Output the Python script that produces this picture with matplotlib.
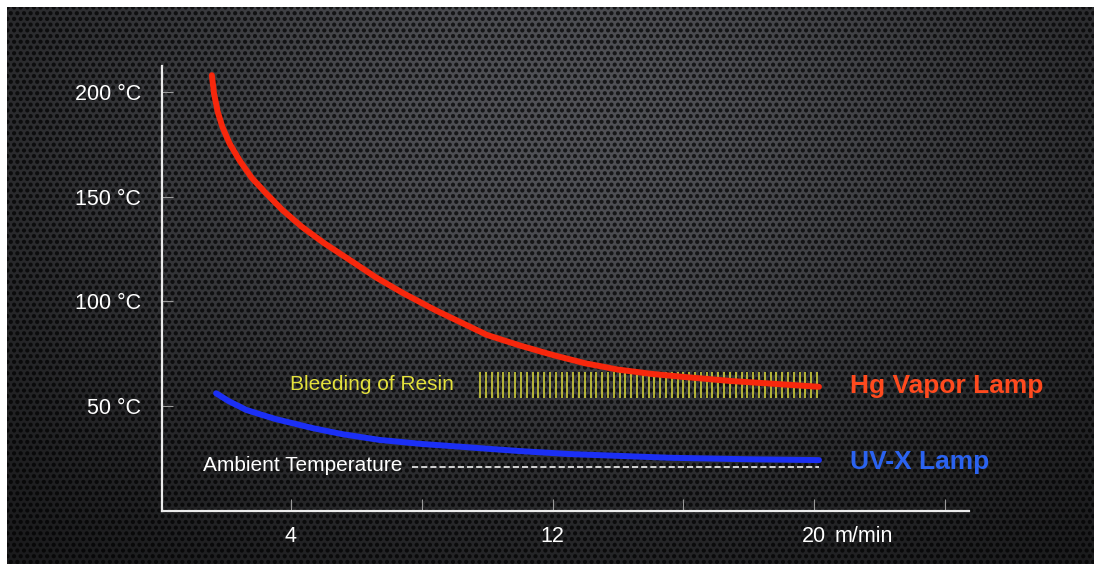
import numpy as np
import matplotlib
matplotlib.use("Agg")
import matplotlib.pyplot as plt

# ---------------- data ----------------
hg_x = [1.58, 1.645, 1.76, 1.90, 2.12, 2.42, 2.8, 3.24, 3.75, 4.33, 5.0, 5.8, 6.6, 7.44,
        8.4, 10.0, 11.0, 12.0, 13.0, 14.0, 15.0, 16.0, 17.5, 20.15]
hg_y = [208, 199.4, 190.5, 183.4, 175.5, 167.5, 159.0, 151.6, 143.5, 135.7, 128.0, 119.8, 111.5, 103.9,
        96.0, 84.0, 79.0, 74.5, 70.5, 67.5, 65.5, 64.0, 62.0, 59.3]

uvx_x = [1.71, 2.1, 2.64, 3.5, 4.68, 5.6, 6.72, 8.0, 9.78, 11.0, 12.5, 15.6, 18.0, 20.15]
uvx_y = [56.2, 52.4, 48.2, 44.0, 39.5, 36.6, 33.9, 32.0, 30.0, 28.6, 27.2, 25.4, 24.7, 24.3]

ambient_y = 21.0
ambient_x = (7.71, 20.15)

resin_x = (9.79, 20.09)
resin_y = (53.8, 66.5)

x_ticks = [4, 8, 12, 16, 20, 24]
x_ticklabels = ["4", "", "12", "", "20", ""]
y_ticks = [50, 100, 150, 200]
y_ticklabels = ["50 °C", "100 °C", "150 °C", "200 °C"]
x_unit = "m/min"

# ---------------- figure ----------------
W, H = 1094, 564
fig = plt.figure(figsize=(W / 100, H / 100), dpi=100, facecolor="white")
plt.rcParams["font.family"] = ["Liberation Sans", "DejaVu Sans"]

# textured dark background (hexagonal perforated pattern with soft spotlight)
bw, bh = 1087, 557
yy, xx = np.mgrid[0:bh, 0:bw].astype(float)
a = 6.6
hh = a * np.sqrt(3) / 2
def lat_dist(px, py, ox, oy):
    dx = ((px - ox) % a) - a / 2
    dy = ((py - oy) % (2 * hh)) - hh
    return np.sqrt(dx ** 2 + dy ** 2)
d = np.minimum(lat_dist(xx, yy, a / 2, hh), lat_dist(xx, yy, 0, 0))
hole = np.clip((2.6 - d) / 1.0, 0, 1)
base = 0.085 + 0.24 * np.exp(-(((xx - 560) / 560) ** 2 + ((yy - 110) / 380) ** 2))
val = base * (1 - 0.7 * hole)
img = np.dstack([val * 0.97, val * 0.98, val * 1.04])
img = np.clip(img, 0, 1)
bgax = fig.add_axes([7 / W, 0, bw / W, bh / H])
bgax.imshow(img, aspect="auto", interpolation="bilinear")
bgax.set_axis_off()

# main axes
ax = fig.add_axes([162 / W, 1 - 511 / H, 807 / W, 445 / H])
ax.set_facecolor("none")
ax.set_xlim(0.055, 24.74)
ax.set_ylim(0, 212.4)

for s in ["top", "right"]:
    ax.spines[s].set_visible(False)
for s in ["left", "bottom"]:
    ax.spines[s].set_color("#ececec")
    ax.spines[s].set_linewidth(1.6)

ax.set_xticks(x_ticks)
ax.set_xticklabels(x_ticklabels)
ax.set_yticks(y_ticks)
ax.set_yticklabels(y_ticklabels)
ax.tick_params(axis="x", direction="in", length=9, width=0.8, color="#9a9a9a",
               labelcolor="white", labelsize=15.5, pad=11)
ax.tick_params(axis="y", direction="in", length=8, width=0.8, color="#9a9a9a",
               labelcolor="white", labelsize=15.5, pad=15)

ax.annotate(x_unit, xy=(20.64, 0), xycoords="data", xytext=(0, -11),
            textcoords="offset points", ha="left", va="top",
            color="white", fontsize=15.5, annotation_clip=False)

# resin band
ax.vlines(np.linspace(resin_x[0], resin_x[1], 59), resin_y[0], resin_y[1],
          colors="#dcdc3c", linewidth=1.1, zorder=2)

# ambient line
ax.hlines(ambient_y, ambient_x[0], ambient_x[1], colors="white",
          linewidth=1.1, linestyles=(0, (4, 2)), zorder=2)

# curves
ax.plot(hg_x, hg_y, color="#f7270c", linewidth=4.3, solid_capstyle="round",
        solid_joinstyle="round", zorder=3)
ax.plot(uvx_x, uvx_y, color="#1b2ff5", linewidth=4.3, solid_capstyle="round",
        solid_joinstyle="round", zorder=3)

# labels
ax.text(3.97, 60.6, "Bleeding of Resin", color="#e4e23c", fontsize=15,
        ha="left", va="center")
ax.text(1.31, 21.5, "Ambient Temperature", color="white", fontsize=15,
        ha="left", va="center")
ax.text(21.1, 59.7, "Hg Vapor Lamp", color="#ff4a1e", fontsize=19,
        fontweight="bold", ha="left", va="center", clip_on=False)
ax.text(21.1, 23.4, "UV-X Lamp", color="#2b63f0", fontsize=19,
        fontweight="bold", ha="left", va="center", clip_on=False)

fig.savefig("out.png", dpi=100, facecolor="white")
